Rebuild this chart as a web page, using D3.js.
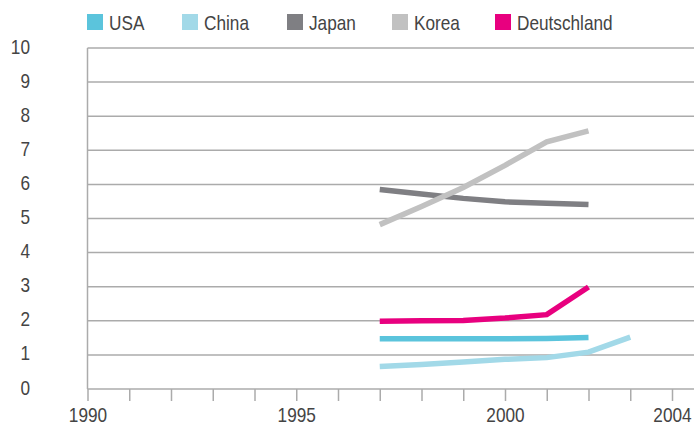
<!DOCTYPE html>
<html>
<head>
<meta charset="utf-8">
<script src="https://cdn.jsdelivr.net/npm/d3@7"></script>
<style>
  body { margin: 0; background: #fff; }
  svg text { font-family: "Liberation Sans", Arial, sans-serif; fill: #444; }
</style>
</head>
<body>
<svg width="694" height="425"></svg>
<script>
// data
const years = [1997, 1998, 1999, 2000, 2001, 2002, 2003];
const usa = [1.47, 1.47, 1.47, 1.47, 1.48, 1.51];
const china = [0.66, 0.72, 0.79, 0.87, 0.92, 1.08, 1.52];
const japan = [5.85, 5.72, 5.59, 5.49, 5.45, 5.41];
const korea = [4.82, 5.35, 5.91, 6.56, 7.25, 7.57];
const deutschland = [1.99, 2.0, 2.01, 2.08, 2.18, 2.99];
const yTicks = [0, 1, 2, 3, 4, 5, 6, 7, 8, 9, 10];
const xLabels = [1990, 1995, 2000, 2004];

const series = [
  { name: "USA", values: usa, color: "#5bc4dc" },
  { name: "China", values: china, color: "#a2d9e8" },
  { name: "Japan", values: japan, color: "#7f7f83" },
  { name: "Korea", values: korea, color: "#c1c1c1" },
  { name: "Deutschland", values: deutschland, color: "#e8007f" }
];

const narrow = "scale(0.82,1)";
const svg = d3.select("svg");
const left = 87.5, right = 694;

const x = d3.scaleLinear().domain([1990, 2004]).range([87.5, 672]);
const y = d3.scaleLinear().domain([0, 10]).range([389, 48]);

// gridlines
svg.append("g").selectAll("line")
  .data(yTicks)
  .join("line")
  .attr("x1", left)
  .attr("x2", right)
  .attr("y1", d => y(d))
  .attr("y2", d => y(d))
  .attr("stroke", "#ababab")
  .attr("stroke-width", 1.5);

// left axis line
svg.append("line")
  .attr("x1", left).attr("x2", left)
  .attr("y1", y(10)).attr("y2", y(0))
  .attr("stroke", "#ababab")
  .attr("stroke-width", 1.5);

// y labels
svg.append("g").selectAll("text")
  .data(yTicks)
  .join("text")
  .attr("transform", d => `translate(30,${y(d) - 2}) ${narrow}`)
  .attr("text-anchor", "end")
  .attr("dy", "0.36em")
  .style("font-size", "21px")
  .text(d => d);

// x axis
const xAxis = d3.axisBottom(x)
  .tickValues(d3.range(1990, 2005))
  .tickSize(12)
  .tickFormat(d => xLabels.includes(d) ? d : "");

const gx = svg.append("g")
  .attr("transform", `translate(0,${y(0)})`)
  .call(xAxis);
gx.select(".domain").remove();
gx.attr("font-family", null).attr("font-size", null);
gx.selectAll(".tick line").attr("stroke", "#ababab").attr("stroke-width", 1.5);
gx.selectAll(".tick text")
  .attr("y", null)
  .attr("dy", "0.36em")
  .attr("transform", `translate(0,25) ${narrow}`)
  .attr("fill", null)
  .style("font-size", "21px");

// lines
const line = d3.line()
  .x((d, i) => x(years[i]))
  .y(d => y(d));

svg.append("g").selectAll("path")
  .data(series)
  .join("path")
  .attr("d", d => line(d.values))
  .attr("fill", "none")
  .attr("stroke", d => d.color)
  .attr("stroke-width", 5.5);

// legend
const legendX = [87, 182, 287, 392, 495];
const legend = svg.append("g").selectAll("g")
  .data(series)
  .join("g")
  .attr("transform", (d, i) => `translate(${legendX[i]},14)`);

legend.append("rect")
  .attr("width", 16)
  .attr("height", 16)
  .attr("fill", d => d.color);

legend.append("text")
  .attr("transform", `translate(22,8) ${narrow}`)
  .attr("dy", "0.36em")
  .style("font-size", "21px")
  .text(d => d.name);
</script>
</body>
</html>
